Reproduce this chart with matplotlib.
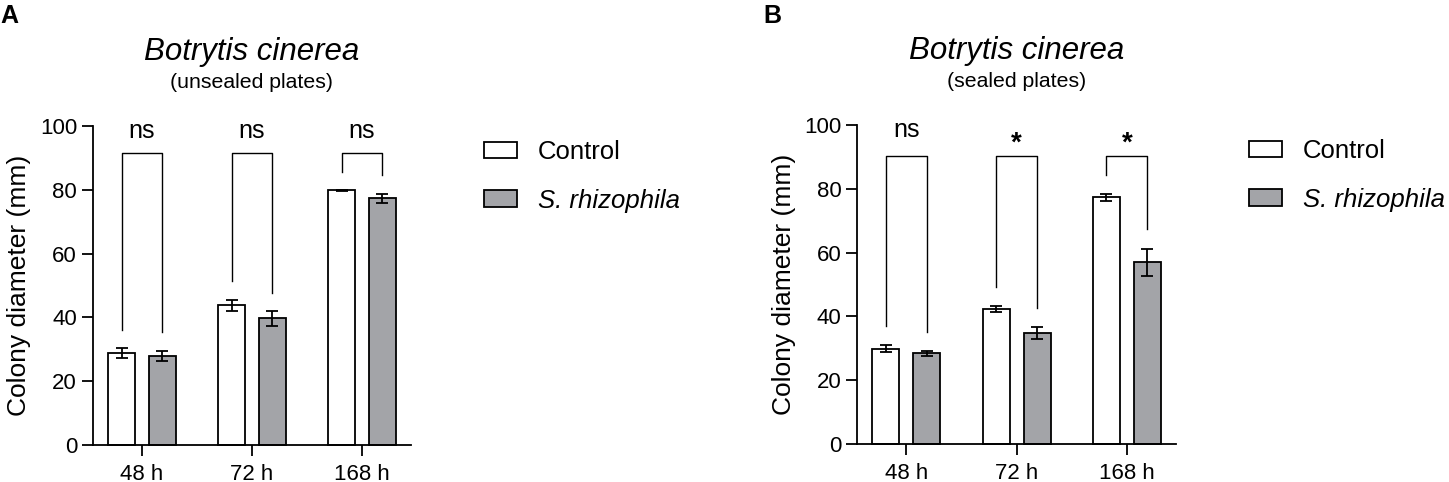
import matplotlib.pyplot as plt
import numpy as np

plt.rcParams['font.family'] = ['Liberation Sans', 'DejaVu Sans']

times = ['48 h', '72 h', '168 h']
labels = ['Control', 'S. rhizophila']

# unsealed plates (A)
ctrl_a = [28.8, 43.8, 79.8]
ctrl_a_err = [1.5, 1.7, 0.15]
rhiz_a = [28.0, 39.7, 77.3]
rhiz_a_err = [1.6, 2.3, 1.3]
sig_a = ['ns', 'ns', 'ns']
brk_a_top = [91.6, 91.6, 91.6]
brk_a_left = [36.0, 51.4, 85.7]
brk_a_right = [35.5, 47.8, 84.6]

# sealed plates (B)
ctrl_b = [29.9, 42.3, 77.3]
ctrl_b_err = [1.2, 1.0, 1.0]
rhiz_b = [28.4, 34.8, 56.9]
rhiz_b_err = [0.75, 1.8, 4.2]
sig_b = ['ns', '*', '*']
brk_b_top = [90.3, 90.3, 90.3]
brk_b_left = [37.1, 49.3, 84.3]
brk_b_right = [35.0, 42.5, 67.4]

grey = '#a3a4a8'
lw = 1.3


def panel(ax, ctrl, ctrl_err, rhiz, rhiz_err, sig, top, left, right, sub):
    x = np.arange(len(times))
    w = 0.245
    off = 0.186
    ax.bar(x - off, ctrl, w, color='white', edgecolor='black', linewidth=lw, label=labels[0], zorder=2)
    ax.bar(x + off, rhiz, w, color=grey, edgecolor='black', linewidth=lw, label=labels[1], zorder=2)
    ax.errorbar(x - off, ctrl, yerr=ctrl_err, fmt='none', ecolor='black', elinewidth=lw, capsize=4.5, capthick=lw, zorder=3)
    ax.errorbar(x + off, rhiz, yerr=rhiz_err, fmt='none', ecolor='black', elinewidth=lw, capsize=4.5, capthick=lw, zorder=3)
    for i in range(len(times)):
        ax.plot([x[i] - off, x[i] - off, x[i] + off, x[i] + off], [left[i], top[i], top[i], right[i]],
                color='black', linewidth=1.0, zorder=3)
        if sig[i] == '*':
            ax.text(x[i], 94.0, '*', ha='center', va='center', fontsize=20, fontweight='bold')
        else:
            ax.text(x[i], 98.5, sig[i], ha='center', va='center', fontsize=18)
    ax.set_xlim(-0.445, 2.445)
    ax.set_ylim(0, 100)
    ax.set_yticks([0, 20, 40, 60, 80, 100])
    ax.set_xticks(x)
    ax.set_xticklabels(times)
    ax.tick_params(axis='both', labelsize=16, length=8, width=lw, direction='out')
    ax.tick_params(axis='x', pad=6)
    ax.spines['top'].set_visible(False)
    ax.spines['right'].set_visible(False)
    ax.spines['left'].set_linewidth(lw)
    ax.spines['bottom'].set_linewidth(lw)
    ax.set_ylabel('Colony diameter (mm)', fontsize=19, labelpad=6)
    for c in ax.get_children():
        if hasattr(c, 'set_clip_on'):
            c.set_clip_on(False)
    ax.text(0.5, 1.232, 'Botrytis cinerea', transform=ax.transAxes, ha='center', va='center',
            fontsize=22.5, style='italic')
    ax.text(0.5, 1.136, sub, transform=ax.transAxes, ha='center', va='center', fontsize=15.3)
    leg = ax.legend(loc='upper left', bbox_to_anchor=(1.156, 1.028), frameon=False, fontsize=18.5,
                    handlelength=1.28, handleheight=0.6, handletextpad=0.82, labelspacing=0.95)
    leg.get_texts()[1].set_style('italic')


fig = plt.figure(figsize=(14.49, 4.82), dpi=100)
ax1 = fig.add_axes([0.0642, 0.0768, 0.2194, 0.6618])
ax2 = fig.add_axes([0.5917, 0.0788, 0.2199, 0.6619])

panel(ax1, ctrl_a, ctrl_a_err, rhiz_a, rhiz_a_err, sig_a, brk_a_top, brk_a_left, brk_a_right, '(unsealed plates)')
panel(ax2, ctrl_b, ctrl_b_err, rhiz_b, rhiz_b_err, sig_b, brk_b_top, brk_b_left, brk_b_right, '(sealed plates)')

fig.text(0.0, 0.966, 'A', fontsize=18, fontweight='bold', ha='left', va='center')
fig.text(0.5265, 0.966, 'B', fontsize=18, fontweight='bold', ha='left', va='center')

fig.savefig('out.png', dpi=100)
